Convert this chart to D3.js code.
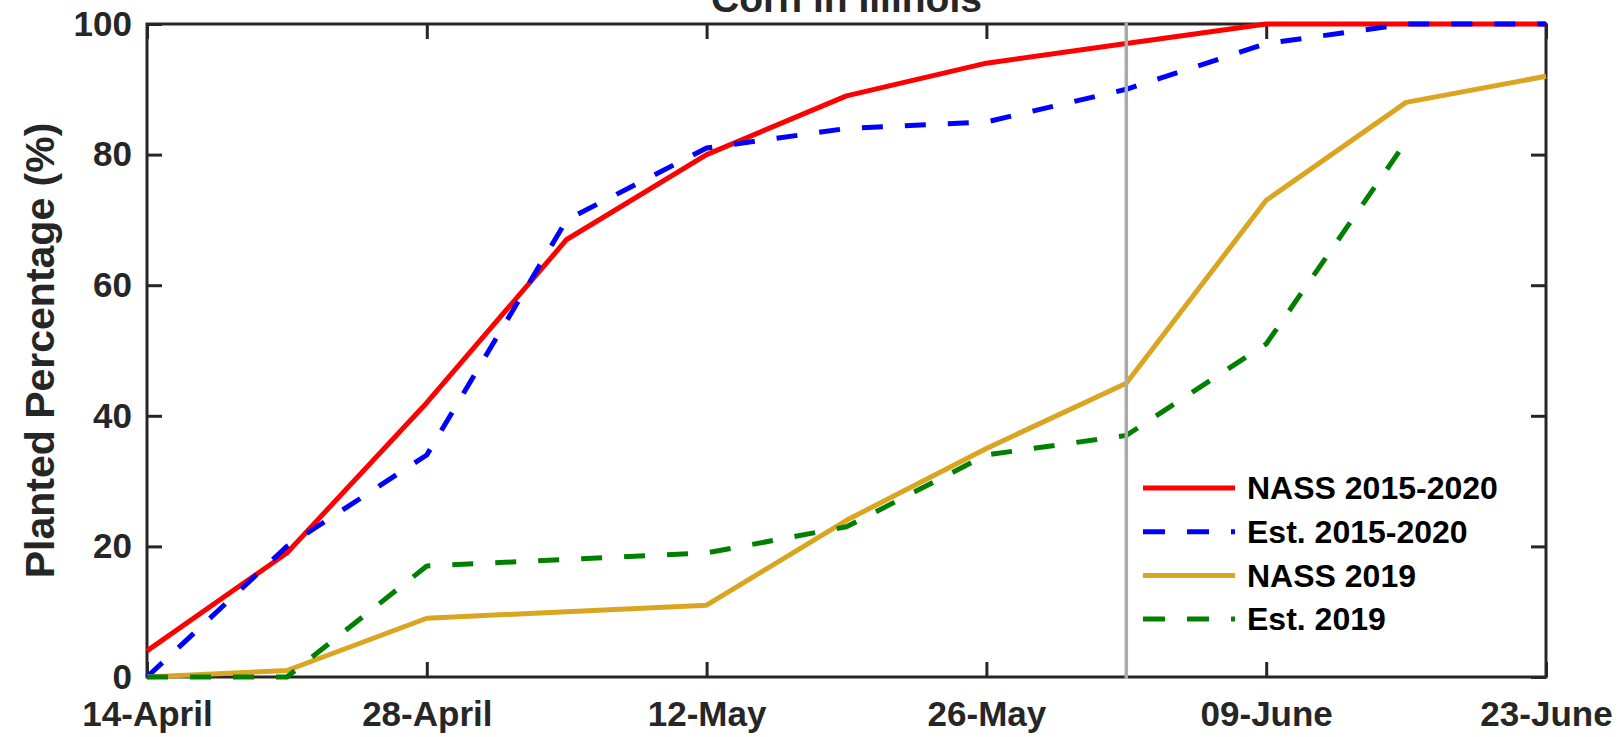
<!DOCTYPE html>
<html>
<head>
<meta charset="utf-8">
<script src="https://cdn.jsdelivr.net/npm/d3@7"></script>
<style>
  body { margin: 0; background: #fff; }
  svg { display: block; font-family: "Liberation Sans", Arial, sans-serif; font-weight: bold; }
</style>
</head>
<body>
<svg id="chart" width="1618" height="737"></svg>
<script>
// Weekly planting progress, corn in Illinois
var weeks = ['2019-04-14','2019-04-21','2019-04-28','2019-05-05','2019-05-12','2019-05-19',
             '2019-05-26','2019-06-02','2019-06-09','2019-06-16','2019-06-23'];
var nass1520 = [4, 19, 42, 67, 80, 89, 94, 97, 100, 100, 100];
var est1520  = [0, 20, 34, 70, 81, 84, 85, 90, 97, 100, 100];
var nass2019 = [0, 1, 9, 10, 11, 24, 35, 45, 73, 88, 92];
var est2019  = [0, 0, 17, 18, 19, 23, 34, 37, 51, 82, null];

var xTicks = ['2019-04-14','2019-04-28','2019-05-12','2019-05-26','2019-06-09','2019-06-23'];
var xTickLabels = ['14-April','28-April','12-May','26-May','09-June','23-June'];
var yTicks = [0, 20, 40, 60, 80, 100];
var markerDate = '2019-06-02';

var seriesNames = ['NASS 2015-2020','Est. 2015-2020','NASS 2019','Est. 2019'];
var seriesValues = [nass1520, est1520, nass2019, est2019];
var seriesColors = ['#ff0000','#0000ff','#daa520','#008000'];
var seriesDashed = [false, true, false, true];

(function(){
  var parse = d3.timeParse('%Y-%m-%d');
  var mLeft = 147, mRight = 1546, mTop = 24, mBottom = 677;
  var ink = '#262626';

  var svg = d3.select('#chart');

  var x = d3.scaleTime().domain([parse(weeks[0]), parse(weeks[weeks.length-1])]).range([mLeft, mRight]);
  var y = d3.scaleLinear().domain([0, 100]).range([mBottom, mTop]);

  function styleAxis(g){
    g.select('.domain').remove();
    g.selectAll('line').attr('stroke', ink).attr('stroke-width', 3);
    g.selectAll('text').attr('fill', ink).style('font-family', '"Liberation Sans", Arial, sans-serif').style('font-weight', 'bold');
  }

  //Axes (ticks point inward, mirrored on all four sides)
  var xFmt = function(d, i){ return xTickLabels[i]; };
  var xVals = xTicks.map(parse);

  svg.append('g').attr('transform', 'translate(0,' + mBottom + ')')
    .call(d3.axisBottom(x).tickValues(xVals).tickFormat(xFmt).tickSizeInner(-15).tickSizeOuter(0).tickPadding(24))
    .call(styleAxis).selectAll('text').style('font-size', '35px');
  svg.append('g').attr('transform', 'translate(0,' + mTop + ')')
    .call(d3.axisTop(x).tickValues(xVals).tickFormat('').tickSizeInner(-15).tickSizeOuter(0))
    .call(styleAxis);
  svg.append('g').attr('transform', 'translate(' + mLeft + ',0)')
    .call(d3.axisLeft(y).tickValues(yTicks).tickSizeInner(-15).tickSizeOuter(0).tickPadding(15))
    .call(styleAxis).selectAll('text').style('font-size', '35px');
  svg.append('g').attr('transform', 'translate(' + mRight + ',0)')
    .call(d3.axisRight(y).tickValues(yTicks).tickFormat('').tickSizeInner(-15).tickSizeOuter(0))
    .call(styleAxis);

  svg.append('rect').attr('x', mLeft).attr('y', mTop).attr('width', mRight - mLeft).attr('height', mBottom - mTop)
    .attr('fill', 'none').attr('stroke', ink).attr('stroke-width', 3);

  //Title and y label
  svg.append('text').attr('x', (mLeft + mRight) / 2).attr('y', 12).attr('text-anchor', 'middle')
    .attr('fill', ink).style('font-size', '39px').text('Corn in Illinois');
  svg.append('text').attr('transform', 'translate(54,' + ((mTop + mBottom) / 2) + ') rotate(-90)')
    .attr('text-anchor', 'middle').attr('fill', ink).style('font-size', '41px').text('Planted Percentage (%)');

  //Series
  var line = d3.line()
    .defined(function(d){ return d.v !== null; })
    .x(function(d){ return x(d.t); })
    .y(function(d){ return y(d.v); });

  seriesValues.forEach(function(vals, i){
    var pts = weeks.map(function(w, j){ return { t: parse(w), v: vals[j] }; });
    svg.append('path').datum(pts).attr('d', line)
      .attr('fill', 'none').attr('stroke', seriesColors[i]).attr('stroke-width', 5)
      .attr('stroke-linejoin', 'round')
      .attr('stroke-dasharray', seriesDashed[i] ? '21,22' : null);
  });

  //Vertical marker line
  svg.append('line').attr('x1', x(parse(markerDate))).attr('x2', x(parse(markerDate)))
    .attr('y1', mTop - 1).attr('y2', mBottom + 2)
    .attr('stroke', '#aaaaaa').attr('stroke-width', 3.5);

  //Legend
  var legend = svg.append('g').attr('transform', 'translate(1143,488)');
  seriesNames.forEach(function(name, i){
    var row = legend.append('g').attr('transform', 'translate(0,' + (i * 43.7) + ')');
    row.append('line').attr('x1', 0).attr('x2', 92).attr('y1', 0).attr('y2', 0)
      .attr('stroke', seriesColors[i]).attr('stroke-width', 5)
      .attr('stroke-dasharray', seriesDashed[i] ? '22,22' : null);
    row.append('text').attr('x', 104).attr('y', 0).attr('dy', '0.35em')
      .attr('fill', '#000').style('font-size', '32px').text(name);
  });
})();
</script>
</body>
</html>
